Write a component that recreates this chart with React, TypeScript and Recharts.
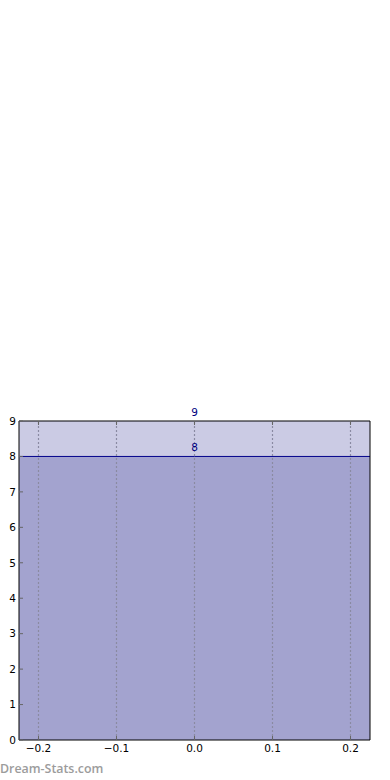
import React from "react"
import {
  ComposedChart,
  Area,
  XAxis,
  YAxis,
  ReferenceLine,
  ReferenceDot,
} from "recharts"

const xPoints = [-0.225, 0, 0.225]
const upperBand = [9, 9, 9]
const lowerBand = [8, 8, 8]
const xTicks = [-0.2, -0.1, 0, 0.1, 0.2]
const yTicks = [0, 1, 2, 3, 4, 5, 6, 7, 8, 9]
const labelX = 0

const chartData = xPoints.map((x, i) => ({ x, upper: upperBand[i], lower: lowerBand[i] }))

const font = "'DejaVu Sans', sans-serif"
const tickStyle = { fill: "#000", fontSize: 10.5, fontFamily: font }

const fmtX = (v: number) => (v < 0 ? "\u2212" + Math.abs(v).toFixed(1) : v.toFixed(1))

export default function App() {
  return (
    <div style={{ position: "absolute", left: 0, top: 0, width: 390, height: 780, background: "#fff" }}>
      <ComposedChart
        width={390}
        height={780}
        data={chartData}
        margin={{ top: 420, right: 19, bottom: 20, left: 0 }}
      >
        <Area
          type="linear"
          dataKey="upper"
          fill="#cbcbe4"
          fillOpacity={1}
          stroke="none"
          isAnimationActive={false}
        />
        <Area
          type="linear"
          dataKey="lower"
          fill="#a3a3cf"
          fillOpacity={1}
          stroke="#00008b"
          strokeWidth={1}
          isAnimationActive={false}
        />
        {/* dotted grid on top of the fills, like the original */}
        {xTicks.map((t) => (
          <ReferenceLine key={t} x={t} stroke="#8a8aa2" strokeWidth={1.2} strokeDasharray="2 2" />
        ))}
        <XAxis
          dataKey="x"
          type="number"
          domain={[-0.225, 0.225]}
          ticks={xTicks}
          tickFormatter={fmtX}
          height={20}
          tickSize={-4}
          tickMargin={9}
          tick={tickStyle}
          axisLine={{ stroke: "#000" }}
          tickLine={{ stroke: "#666" }}
          allowDataOverflow
        />
        <XAxis
          xAxisId="top"
          orientation="top"
          dataKey="x"
          type="number"
          domain={[-0.225, 0.225]}
          ticks={xTicks}
          height={1}
          tickSize={-4}
          tick={() => <g />}
          axisLine={{ stroke: "#000" }}
          tickLine={{ stroke: "#666" }}
        />
        <YAxis
          type="number"
          domain={[0, 9]}
          ticks={yTicks}
          width={19}
          tickSize={-4}
          tickMargin={7}
          tick={tickStyle}
          axisLine={{ stroke: "#000" }}
          tickLine={{ stroke: "#666" }}
        />
        <YAxis
          yAxisId="right"
          orientation="right"
          type="number"
          domain={[0, 9]}
          ticks={yTicks}
          width={1}
          tickSize={-4}
          tick={() => <g />}
          axisLine={{ stroke: "#000" }}
          tickLine={{ stroke: "#666" }}
        />
        <ReferenceDot
          x={labelX}
          y={upperBand[1]}
          r={0}
          stroke="none"
          label={{ value: String(upperBand[1]), position: "top", offset: 5, fill: "#000080", fontSize: 10.5, fontFamily: font }}
        />
        <ReferenceDot
          x={labelX}
          y={lowerBand[1]}
          r={0}
          stroke="none"
          label={{ value: String(lowerBand[1]), position: "top", offset: 5, fill: "#000080", fontSize: 10.5, fontFamily: font }}
        />
      </ComposedChart>
      <div
        style={{
          position: "absolute",
          left: 0,
          top: 760,
          fontFamily: "'Open Sans', sans-serif",
          fontWeight: 600,
          fontSize: 12.4,
          color: "#9c9c9c",
          whiteSpace: "nowrap",
        }}
      >
        Dream-Stats.com
      </div>
    </div>
  )
}
